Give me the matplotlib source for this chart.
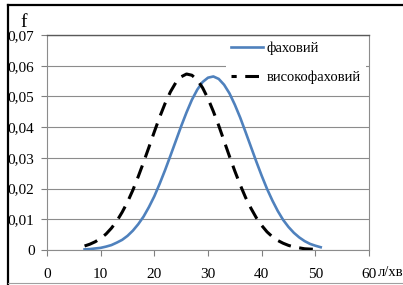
import numpy as np
import matplotlib.pyplot as plt
from matplotlib.lines import Line2D

plt.rcParams['font.family'] = ['Liberation Serif', 'DejaVu Serif']

# фаховий
x_fah = list(range(7, 52))
y_fah = [0.0002, 0.0003, 0.0005, 0.0007, 0.0011, 0.0016, 0.0024, 0.0033, 0.0046, 0.0063,
         0.0084, 0.0109, 0.0140, 0.0175, 0.0216, 0.0260, 0.0307, 0.0355, 0.0403, 0.0448,
         0.0489, 0.0522, 0.0547, 0.0561, 0.0565, 0.0557, 0.0538, 0.0510, 0.0473, 0.0431,
         0.0384, 0.0336, 0.0288, 0.0242, 0.0199, 0.0161, 0.0127, 0.0098, 0.0075, 0.0056,
         0.0041, 0.0029, 0.0020, 0.0014, 0.0009]

# високофаховий
x_vys = list(range(7, 51))
y_vys = [0.0013, 0.0019, 0.0027, 0.0038, 0.0052, 0.0071, 0.0094, 0.0123, 0.0156, 0.0195,
         0.0239, 0.0286, 0.0335, 0.0385, 0.0433, 0.0477, 0.0515, 0.0545, 0.0564, 0.0573,
         0.0569, 0.0554, 0.0528, 0.0493, 0.0451, 0.0405, 0.0355, 0.0305, 0.0257, 0.0212,
         0.0171, 0.0136, 0.0105, 0.0080, 0.0059, 0.0043, 0.0031, 0.0022, 0.0015, 0.0010,
         0.0007, 0.0004, 0.0003, 0.0002]

x_ticks = [0, 10, 20, 30, 40, 50, 60]
y_ticks = [0, 0.01, 0.02, 0.03, 0.04, 0.05, 0.06, 0.07]
y_labels = ['0', '0,01', '0,02', '0,03', '0,04', '0,05', '0,06', '0,07']

blue = '#4f81bd'

fig = plt.figure(figsize=(4.03, 2.85), dpi=100)
ax = fig.add_axes([47/403, 35/285, 322/403, 215/285])

ax.plot(x_fah, y_fah, color=blue, lw=1.9, zorder=3)
ax.plot(x_vys, y_vys, color='black', lw=2.2, ls=(0, (4.5, 2.8)), zorder=3)

ax.set_xlim(0, 60)
ax.set_ylim(0, 0.07)
ax.set_xticks(x_ticks)
ax.set_yticks(y_ticks)
ax.set_yticklabels(y_labels)
ax.yaxis.grid(True, color='#8c8c8c', lw=0.8)
ax.set_axisbelow(True)
ax.tick_params(axis='both', colors='#808080', labelcolor='black', length=4, width=0.8,
               labelsize=11)
ax.tick_params(axis='y', pad=5)
ax.tick_params(axis='x', pad=9)
for s in ax.spines.values():
    s.set_color('#8c8c8c')
    s.set_linewidth(0.8)
ax.spines['top'].set_color('#595959')
ax.spines['top'].set_linewidth(1.0)

# legend (white box under the curves)
h1 = Line2D([], [], color=blue, lw=1.9)
h2 = Line2D([], [], color='black', lw=2.2, ls=(2.8, (4.5, 2.8)))
leg = ax.legend([h1, h2], ['фаховий', 'високофаховий'], loc='upper right',
                bbox_to_anchor=(0.99, 0.993), borderaxespad=0, fontsize=10.5,
                handlelength=2.2, handletextpad=0.25, labelspacing=1.05,
                borderpad=0.35, frameon=True, fancybox=False)
leg.get_frame().set_edgecolor('none')
leg.get_frame().set_facecolor('white')
leg.get_frame().set_alpha(1)
leg.set_zorder(2.6)

# axis captions
fig.text(24/403, 1 - 27/285, 'f', fontsize=14, ha='center', va='baseline')
fig.text(378/403, 1 - 272/285, 'л/хв', fontsize=10.5, ha='left', va='center')

# outer border
fig.add_artist(Line2D([8/403, 8/403], [0, 1 - 5/285], color='black', lw=1.6))
fig.add_artist(Line2D([8/403, 1], [1 - 5/285, 1 - 5/285], color='black', lw=1.6))
fig.add_artist(Line2D([8/403, 1], [2/285, 2/285], color='#a0a0a0', lw=0.8))

fig.savefig('out.png', dpi=100)
